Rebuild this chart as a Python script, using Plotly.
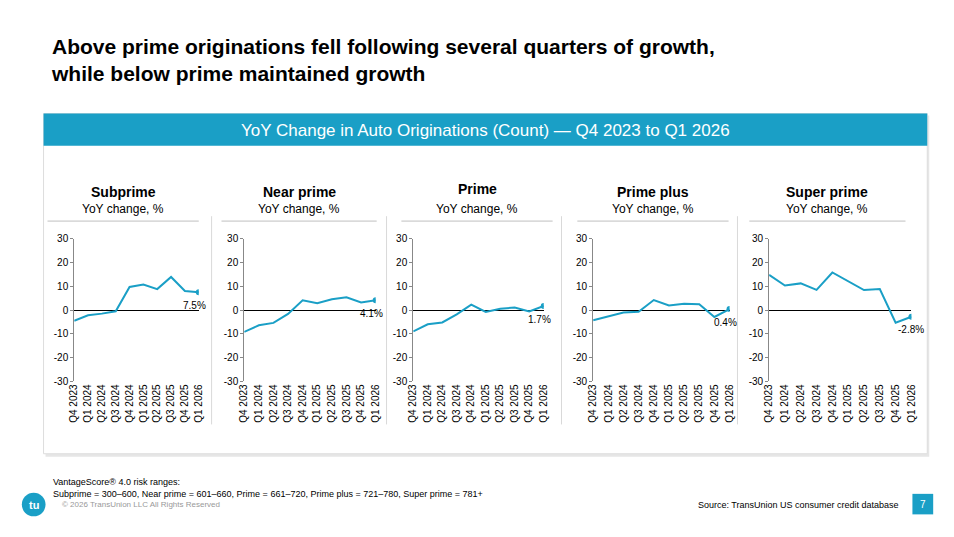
import plotly.graph_objects as go

quarters = ["Q4 2023","Q1 2024","Q2 2024","Q3 2024","Q4 2024","Q1 2025","Q2 2025","Q3 2025","Q4 2025","Q1 2026"]
titles = ["Subprime","Near prime","Prime","Prime plus","Super prime"]
subprime = [-4.5,-2.2,-1.5,-0.5,9.7,10.7,8.8,13.9,8.0,7.5]
near_prime = [-9.2,-6.4,-5.4,-1.6,4.1,2.9,4.5,5.4,3.2,4.1]
prime = [-9.0,-6.0,-5.2,-1.8,2.3,-0.8,0.5,1.1,-0.6,1.7]
prime_plus = [-4.3,-2.8,-1.0,-0.7,4.2,1.9,2.6,2.4,-2.9,0.4]
super_prime = [14.8,10.3,11.2,8.5,15.8,12.0,8.4,8.8,-5.3,-2.8]
series = [subprime, near_prime, prime, prime_plus, super_prime]
last_labels = ["7.5%","4.1%","1.7%","0.4%","-2.8%"]
y_ticks = [-30,-20,-10,0,10,20,30]
y_ticktext = ["-30","-20","-10","0","10","20","30"]

W, H = 954, 537
def px(x): return x / W
def py(y): return 1 - y / H

axis_x = [(69,195),(241,374),(412,544),(594,732),(772,916)]
header_x = [(42,195),(218,375),(400,553),(578,731),(752,910)]
seps = [208,385,562,740]
BLUE = "#1a9fc6"
fig = go.Figure()
shapes, ann = [], []

def A(text, x, y, size, color="black", xa="center", ya="middle", **kw):
    ann.append(dict(text=text, x=px(x), y=py(y), xref="paper", yref="paper", xanchor=xa, yanchor=ya,
                    showarrow=False, font=dict(size=size, color=color), **kw))

shapes.append(dict(type="rect", xref="paper", yref="paper", x0=px(40), x1=px(934), y0=py(461), y1=py(112),
                   fillcolor="#e6e6e6", line_width=0, layer="below"))
shapes.append(dict(type="rect", xref="paper", yref="paper", x0=px(38), x1=px(932), y0=py(458), y1=py(110),
                   fillcolor="white", line=dict(color="#dddddd", width=1), layer="below"))
shapes.append(dict(type="rect", xref="paper", yref="paper", x0=px(38), x1=px(932), y0=py(143), y1=py(110),
                   fillcolor=BLUE, line_width=0, layer="below"))
A("YoY Change in Auto Originations (Count) — Q4 2023 to Q1 2026", 485, 127, 17, "white")
for s in seps:
    shapes.append(dict(type="line", xref="paper", yref="paper", x0=px(s), x1=px(s), y0=py(215), y1=py(428),
                       line=dict(color="#d9d9d9", width=1)))

for i, vals in enumerate(series):
    n = i + 1
    xa = "xaxis" if n == 1 else f"xaxis{n}"
    ya = "yaxis" if n == 1 else f"yaxis{n}"
    xr = "x" if n == 1 else f"x{n}"
    yr = "y" if n == 1 else f"y{n}"
    fig.add_trace(go.Scatter(x=list(range(10)), y=vals, mode="lines", line=dict(color=BLUE, width=2),
                             xaxis=xr, yaxis=yr, showlegend=False, hoverinfo="skip"))
    fig.add_trace(go.Scatter(x=[9], y=[vals[-1]], mode="markers", marker=dict(color=BLUE, size=6),
                             xaxis=xr, yaxis=yr, showlegend=False, hoverinfo="skip"))
    a0, a1 = axis_x[i]
    fig.layout[xa] = dict(domain=[px(a0), px(a1)], range=[0, 9], tickvals=list(range(10)), ticktext=quarters,
                          tickangle=-90, showgrid=False, zeroline=False, showline=False, anchor=yr,
                          tickfont=dict(size=10, color="black"), ticks="")
    fig.layout[ya] = dict(domain=[py(384), py(238)], range=[-30, 30], tickvals=y_ticks, ticktext=y_ticktext,
                          showgrid=False, zeroline=True, zerolinecolor="black", zerolinewidth=1,
                          showline=True, linecolor="#888", ticks="outside", ticklen=3, tickcolor="#888",
                          anchor=xr, tickfont=dict(size=10, color="black"))
    ann.append(dict(text=last_labels[i], x=9, y=vals[-1], xref=xr, yref=yr, showarrow=False,
                    xanchor="center", yanchor="middle",
                    yshift=-13, xshift=-4 if i < 4 else 0, font=dict(size=10, color="black")))
    h0, h1 = header_x[i]
    cx = (h0 + h1) / 2
    A(f"<b>{titles[i]}</b>", cx, 190 if i != 2 else 187, 14)
    A("YoY change, %", cx, 208, 12)
    shapes.append(dict(type="line", xref="paper", yref="paper", x0=px(h0), x1=px(h1), y0=py(220), y1=py(220),
                       line=dict(color="#bfbfbf", width=1)))

A("<b>Above prime originations fell following several quarters of growth,<br>while below prime maintained growth</b>",
  44, 28, 21, xa="left", ya="top", align="left")
A("VantageScore® 4.0 risk ranges:<br>Subprime = 300–600, Near prime = 601–660, Prime = 661–720, Prime plus = 721–780, Super prime = 781+",
  46, 480, 9, xa="left", ya="top", align="left")
A("© 2026 TransUnion LLC All Rights Reserved", 55, 510, 8, "#999", xa="left")
A("Source: TransUnion US consumer credit database", 905, 510, 9, xa="right")
shapes.append(dict(type="circle", xref="paper", yref="paper", x0=px(16), x1=px(40), y0=py(522), y1=py(498),
                   fillcolor=BLUE, line_width=0))
A("<b>tu</b>", 28, 510, 11, "white")
shapes.append(dict(type="rect", xref="paper", yref="paper", x0=px(917), x1=px(938), y0=py(520), y1=py(499),
                   fillcolor=BLUE, line_width=0))
A("7", 927.5, 510, 10, "white")

fig.update_layout(width=W, height=H, margin=dict(l=0, r=0, t=0, b=0), paper_bgcolor="white",
                  plot_bgcolor="rgba(0,0,0,0)", shapes=shapes, annotations=ann,
                  font=dict(family="Liberation Sans, Arial, sans-serif"))
post = "document.body.style.margin='0';document.body.style.overflow='hidden';"
fig.write_html("out.html", post_script=post, config={"displayModeBar": False})
